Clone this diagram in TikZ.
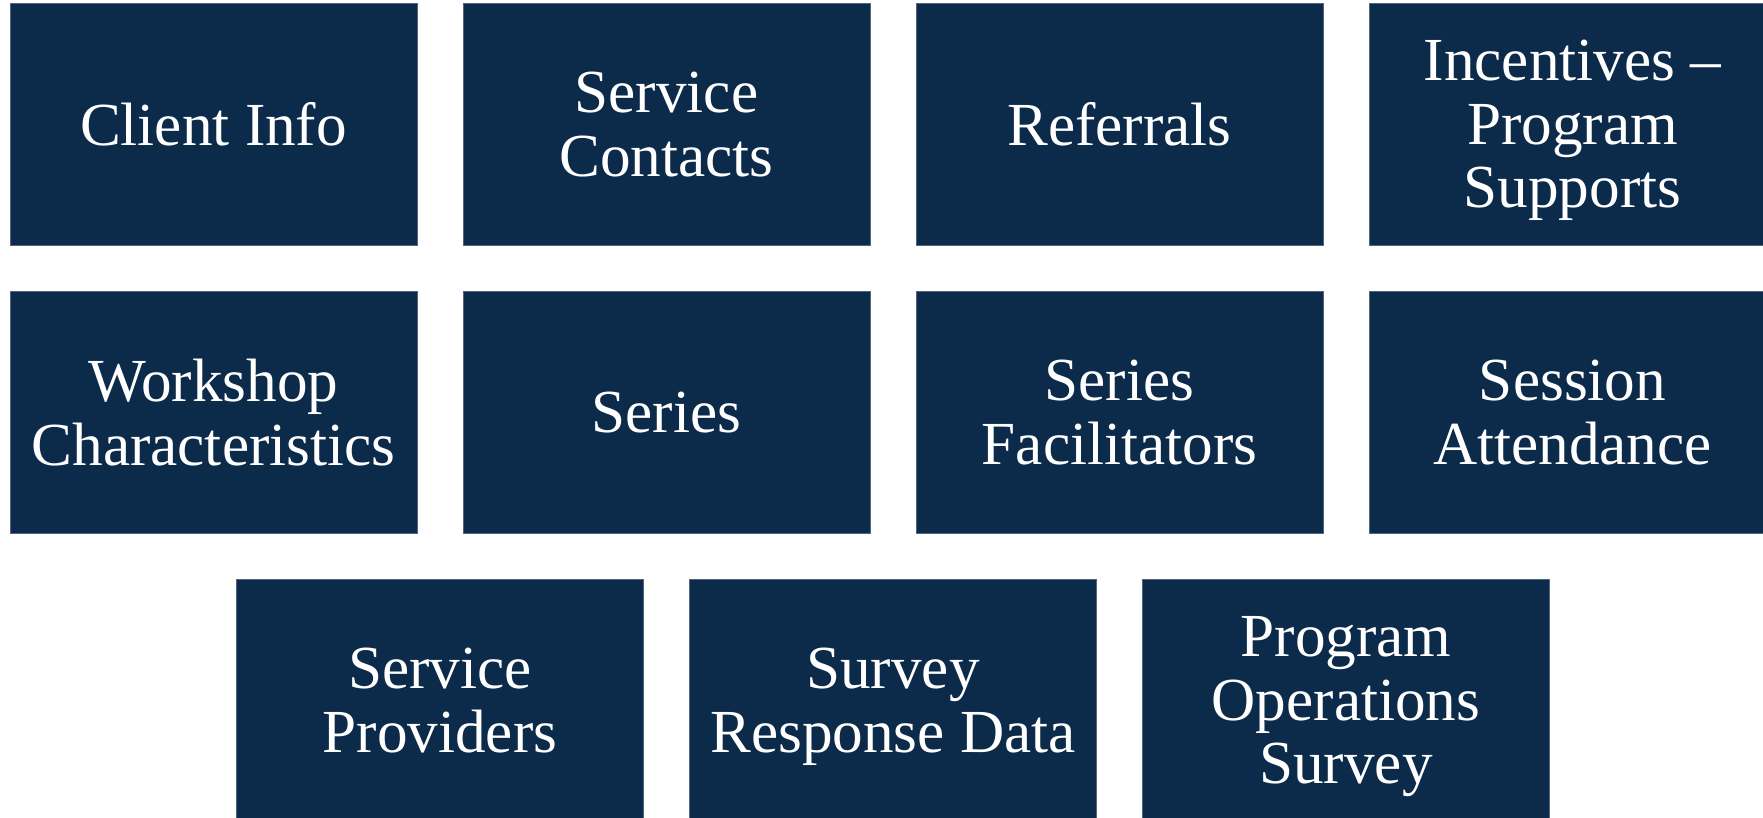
\documentclass[tikz,border=0pt]{standalone}
\usepackage{fontspec}
\setmainfont{Liberation Serif}
\usetikzlibrary{positioning}
\definecolor{navy}{HTML}{0C2A4A}
\definecolor{boxedge}{HTML}{51667D}
\tikzstyle{tile} = [rectangle, minimum width=203.5pt, minimum height=121pt, fill=navy, draw=boxedge, line width=0.4pt, outer sep=0pt, inner sep=0pt, text=white, align=center, text depth=0pt, font=\fontsize{30.6}{31.8}\selectfont]

\begin{document}
\begin{tikzpicture}[node distance=23pt]
    \useasboundingbox (0,0) rectangle (881.5pt,-409pt);
    \node (ci) [tile, anchor=north west] at (5pt,-1.5pt) {Client Info};
    \node (sc) [tile, right=of ci] {Service\\Contacts};
    \node (rf) [tile, right=of sc] {Referrals};
    \node (in) [tile, right=of rf] {Incentives --\\Program\\Supports};

    \node (wc) [tile, below=of ci] {Workshop\\Characteristics};
    \node (se) [tile, below=of sc] {Series};
    \node (sf) [tile, below=of rf] {Series\\Facilitators};
    \node (sa) [tile, below=of in] {Session\\Attendance};

    \node (sp) [tile, below=of wc, xshift=113.25pt] {Service\\Providers};
    \node (sr) [tile, right=of sp] {Survey\\Response Data};
    \node (po) [tile, right=of sr] {Program\\Operations\\Survey};
\end{tikzpicture}
\end{document}
